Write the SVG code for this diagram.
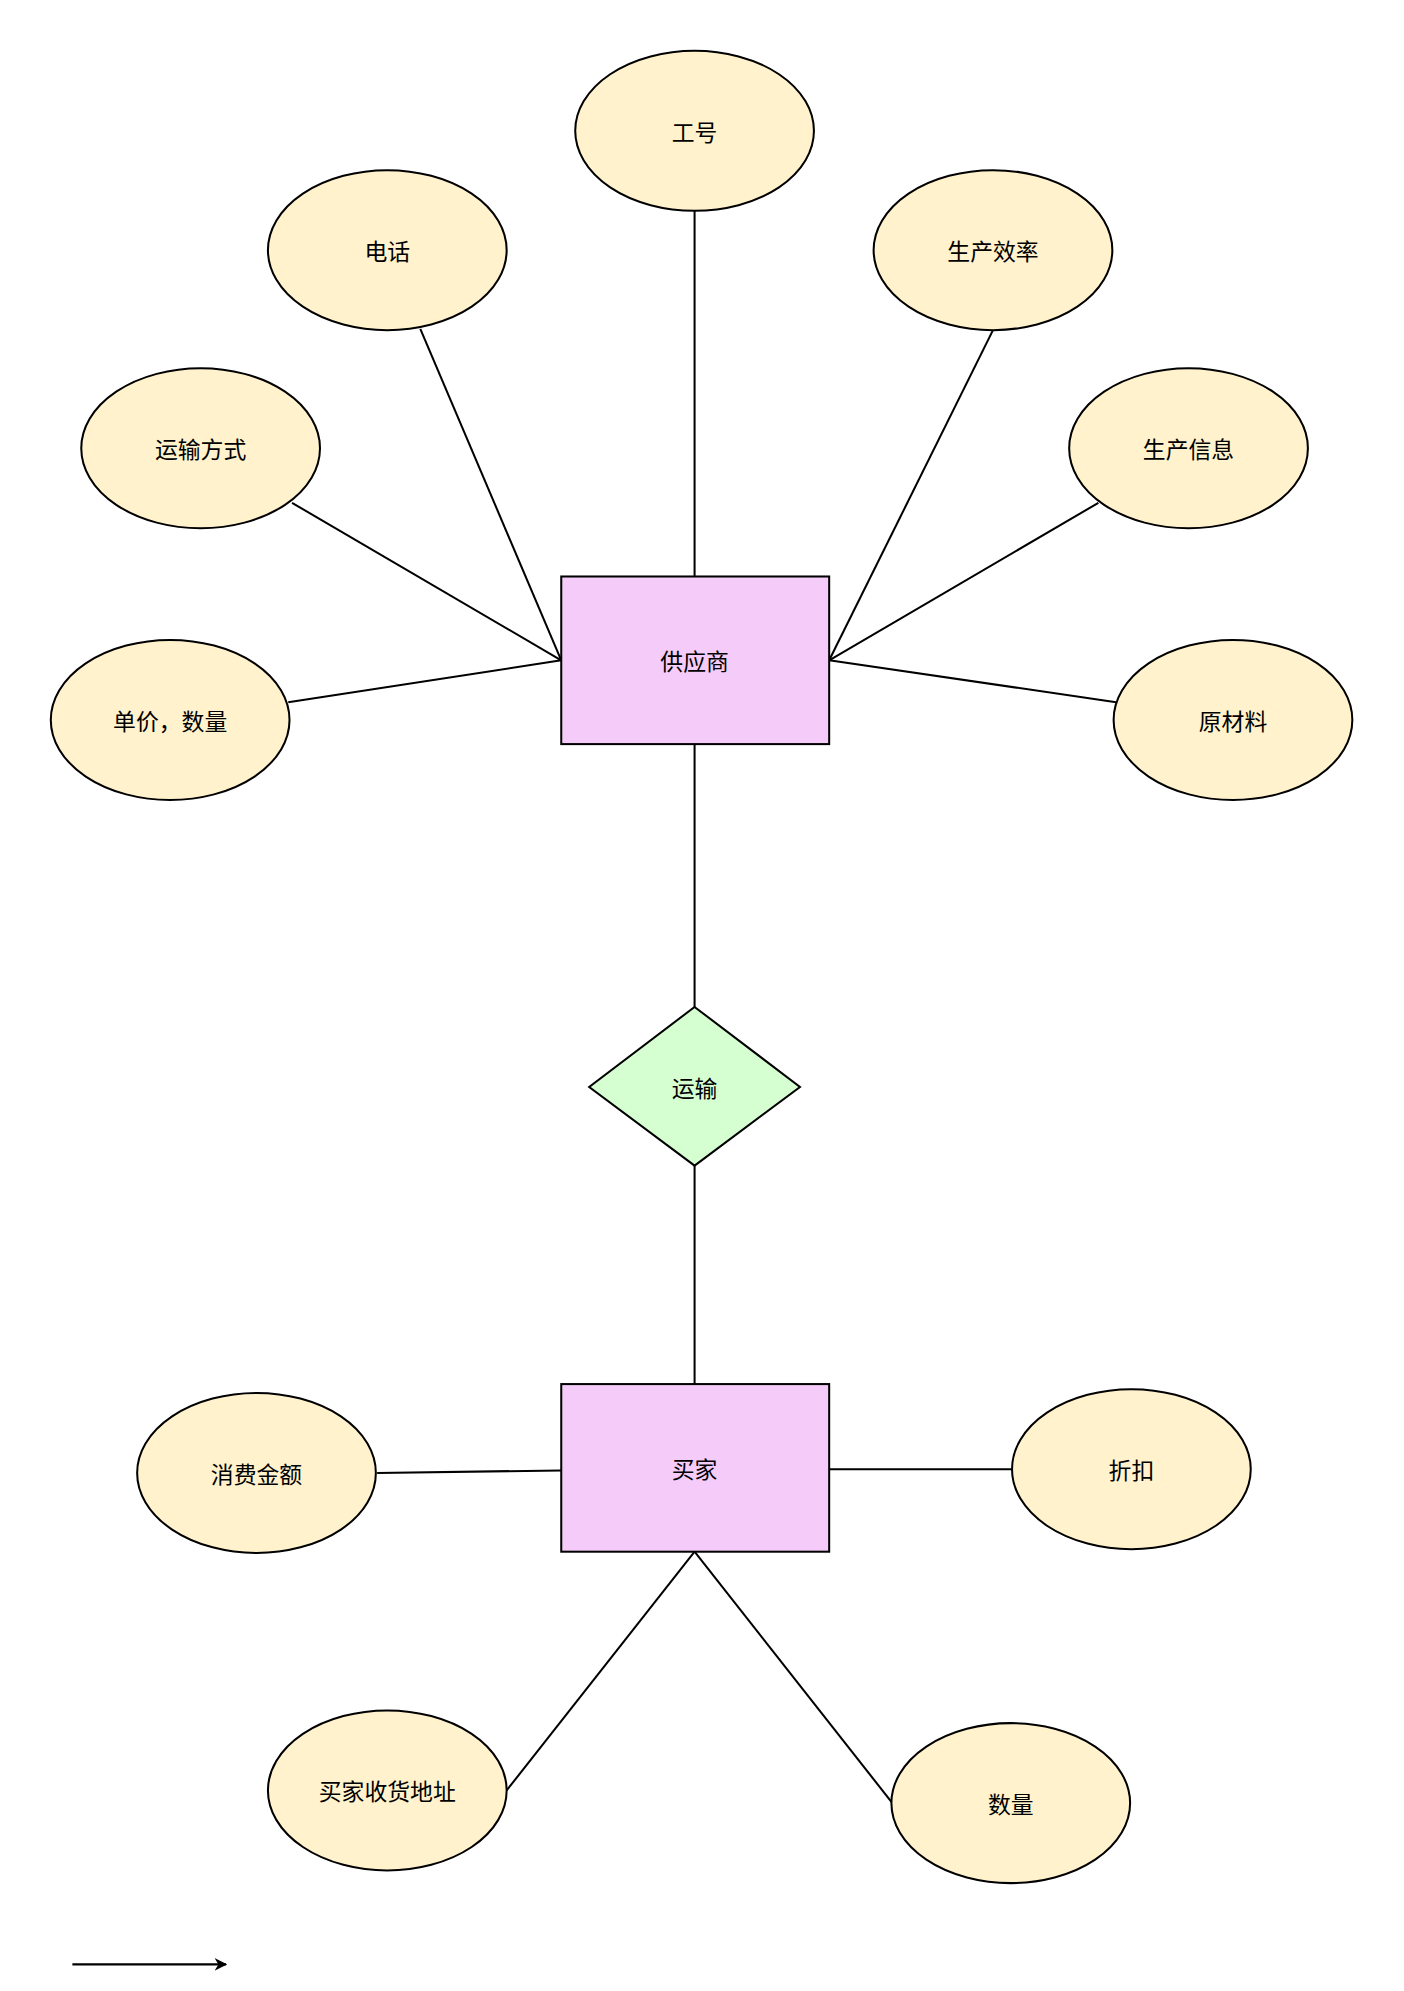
<svg xmlns="http://www.w3.org/2000/svg" width="1404" height="1991" viewBox="0 0 1404 1991">
<defs>
<style>
.e{fill:#FFF2CC;stroke:#000;stroke-width:1.6}
.r{fill:#F5CCF9;stroke:#000;stroke-width:1.6}
.d{fill:#D5FFD1;stroke:#000;stroke-width:1.6}
.l{stroke:#000;stroke-width:1.6;fill:none}
text{font-family:"Noto Sans CJK SC","Liberation Sans",sans-serif;font-size:18px;text-anchor:middle;dominant-baseline:central;fill:#000}
</style>
<marker id="ah" markerWidth="10" markerHeight="10" refX="9" refY="5" orient="auto" markerUnits="userSpaceOnUse"><path d="M0,0 L10,5 L0,10 L3,5 Z" fill="#000"/></marker>
</defs>
<rect width="1404" height="1991" fill="#fff"/>
<g transform="scale(1.2698)">
<g id="connectors">
<path class="l" d="M547,166 L547,454"/>
<path class="l" d="M331,259 L442,520"/>
<path class="l" d="M230,396 L442,520"/>
<path class="l" d="M227,553 L442,520"/>
<path class="l" d="M782,260 L653,520"/>
<path class="l" d="M865,396 L653,520"/>
<path class="l" d="M879,553 L653,520"/>
<path class="l" d="M547,586 L547,793"/>
<path class="l" d="M547,918 L547,1090"/>
<path class="l" d="M297,1160 L442,1158"/>
<path class="l" d="M653,1157 L797,1157"/>
<path class="l" d="M547,1222 L399,1410"/>
<path class="l" d="M547,1222 L702,1419"/>
<path class="l" d="M57,1547 L178,1547" marker-end="url(#ah)"/>
</g>
<g id="n1"><ellipse class="e" cx="547" cy="103" rx="94" ry="63"/><text x="547" y="103">工号</text></g>
<g id="n2"><ellipse class="e" cx="305" cy="197" rx="94" ry="63"/><text x="305" y="197">电话</text></g>
<g id="n3"><ellipse class="e" cx="782" cy="197" rx="94" ry="63"/><text x="782" y="197">生产效率</text></g>
<g id="n4"><ellipse class="e" cx="158" cy="353" rx="94" ry="63"/><text x="158" y="353">运输方式</text></g>
<g id="n5"><ellipse class="e" cx="936" cy="353" rx="94" ry="63"/><text x="936" y="353">生产信息</text></g>
<g id="n6"><ellipse class="e" cx="134" cy="567" rx="94" ry="63"/><text x="134" y="567">单价，数量</text></g>
<g id="n7"><ellipse class="e" cx="971" cy="567" rx="94" ry="63"/><text x="971" y="567">原材料</text></g>
<g id="supplier"><rect class="r" x="442" y="454" width="211" height="132"/><text x="547" y="520">供应商</text></g>
<g id="transport"><path class="d" d="M547,793 L630,856 L547,918 L464,856 Z"/><text x="547" y="856">运输</text></g>
<g id="buyer"><rect class="r" x="442" y="1090" width="211" height="132"/><text x="547" y="1156">买家</text></g>
<g id="n8"><ellipse class="e" cx="202" cy="1160" rx="94" ry="63"/><text x="202" y="1160">消费金额</text></g>
<g id="n9"><ellipse class="e" cx="891" cy="1157" rx="94" ry="63"/><text x="891" y="1157">折扣</text></g>
<g id="n10"><ellipse class="e" cx="305" cy="1410" rx="94" ry="63"/><text x="305" y="1410">买家收货地址</text></g>
<g id="n11"><ellipse class="e" cx="796" cy="1420" rx="94" ry="63"/><text x="796" y="1420">数量</text></g>
</g>
</svg>
